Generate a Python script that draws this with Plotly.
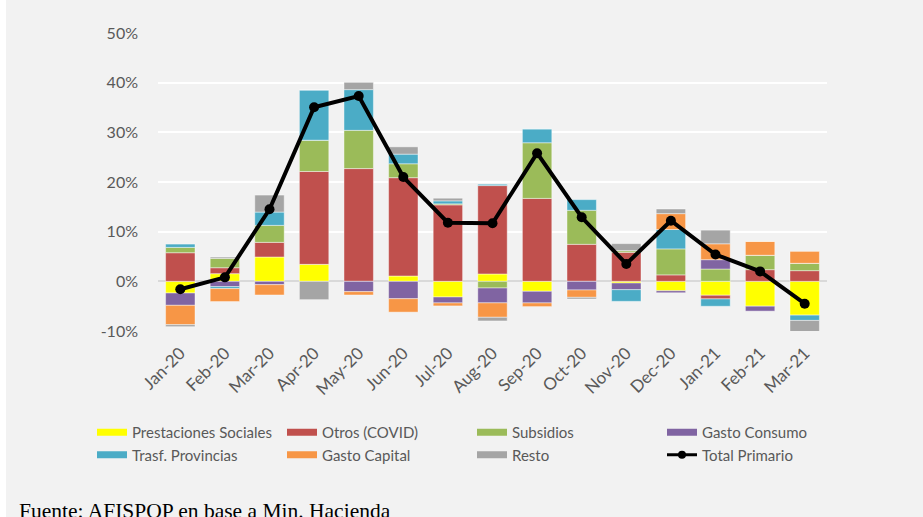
import plotly.graph_objects as go

months = ["Jan-20", "Feb-20", "Mar-20", "Apr-20", "May-20", "Jun-20", "Jul-20",
          "Aug-20", "Sep-20", "Oct-20", "Nov-20", "Dec-20", "Jan-21", "Feb-21", "Mar-21"]

prestaciones = [-2.35, 1.54, 4.90, 3.42, 0.00, 1.07, -3.15, 1.48, -2.00, 0.00, -0.34, -1.90, -2.80, -5.00, -6.80]
otros_covid  = [5.76, 1.20, 2.95, 18.70, 22.70, 19.80, 15.40, 17.80, 16.70, 7.45, 5.84, 1.30, -0.74, 2.35, 2.15]
subsidios    = [1.07, 1.88, 3.42, 6.30, 7.70, 2.80, 0.20, -1.34, 11.20, 6.85, 0.34, 5.23, 2.48, 2.90, 1.48]
gasto_consumo = [-2.48, -1.07, -0.67, 0.00, -2.08, -3.50, -1.20, -3.00, -2.35, -1.74, -1.34, -0.40, 1.88, -1.00, 0.00]
trasf_prov   = [0.67, -0.40, 2.68, 10.10, 8.20, 1.94, 0.60, 0.27, 2.80, 2.15, -2.35, 3.90, -1.48, 0.00, -1.07]
gasto_capital = [-3.90, -2.60, -2.08, 0.00, -0.67, -2.70, -0.60, -2.90, -0.74, -1.48, 0.00, 3.20, 3.20, 2.80, 2.40]
resto        = [-0.40, 0.27, 3.42, -3.69, 1.47, 1.47, 0.54, -0.74, 0.00, -0.34, 1.41, 0.94, 2.75, 0.00, -2.50]
total_primario = [-1.6, 0.8, 14.5, 35.05, 37.3, 21.0, 11.8, 11.7, 25.8, 12.9, 3.5, 12.2, 5.4, 2.0, -4.5]

y_tickvals = [-10, 0, 10, 20, 30, 40, 50]
y_ticktext = ["-10%", "0%", "10%", "20%", "30%", "40%", "50%"]

series = [
    ("Prestaciones Sociales", prestaciones, "#FFFF00"),
    ("Otros (COVID)", otros_covid, "#C0504D"),
    ("Subsidios", subsidios, "#9BBB59"),
    ("Gasto Consumo", gasto_consumo, "#8064A2"),
    ("Trasf. Provincias", trasf_prov, "#4BACC6"),
    ("Gasto Capital", gasto_capital, "#F79646"),
    ("Resto", resto, "#A5A5A5"),
]

FONT = "Lato"
GRAY = "#595959"

fig = go.Figure()
for name, vals, col in series:
    fig.add_trace(go.Bar(
        x=months, y=vals, name=name, showlegend=False,
        marker=dict(color=col, line=dict(color="rgba(255,255,255,0.55)", width=0.8)),
    ))

fig.add_trace(go.Scatter(
    x=months, y=total_primario, mode="lines+markers", showlegend=False,
    line=dict(color="black", width=4), marker=dict(color="black", size=10),
))

# legend entries (swatches as wide lines like the original)
for name, vals, col in series:
    fig.add_trace(go.Scatter(x=[None], y=[None], mode="lines", name=name,
                             line=dict(color=col, width=7)))
fig.add_trace(go.Scatter(x=[None], y=[None], mode="lines+markers", name="Total Primario",
                         line=dict(color="black", width=3), marker=dict(color="black", size=8)))

L, R, T, B = 158, 96, 33, 186
W, H = 923, 517
pw = W - L - R
ph = H - T - B

def px_x(px):
    return (px - L) / pw

def px_y(py):
    return (H - B - py) / ph

fig.update_layout(
    width=W, height=H,
    margin=dict(l=L, r=R, t=T, b=B, autoexpand=False),
    paper_bgcolor="#F2F2F2", plot_bgcolor="#F2F2F2",
    barmode="relative", bargap=0.34,
    font=dict(family=FONT, color=GRAY, size=16),
    xaxis=dict(tickangle=-45, showgrid=False, showline=False, ticks="",
               range=[-0.5, len(months) - 0.5], ticklabelstandoff=8,
               tickfont=dict(size=17, color=GRAY)),
    yaxis=dict(range=[-10, 50], tickvals=y_tickvals, ticktext=y_ticktext,
               showgrid=True, gridcolor="white", gridwidth=2,
               zeroline=True, zerolinecolor="#D9D9D9", zerolinewidth=1.5,
               ticklabelstandoff=19, tickfont=dict(size=16, color=GRAY)),
    legend=dict(orientation="h", xref="paper", yref="paper",
                x=px_x(92), y=px_y(416), xanchor="left", yanchor="top",
                entrywidthmode="pixels", entrywidth=145,
                font=dict(family=FONT, size=15, color=GRAY),
                bgcolor="rgba(0,0,0,0)", itemwidth=30, traceorder="normal"),
    shapes=[dict(type="rect", xref="paper", yref="paper",
                 x0=px_x(-5), x1=px_x(6), y0=px_y(H + 5), y1=px_y(-5),
                 fillcolor="white", line=dict(width=0), layer="above")],
    annotations=[dict(text="Fuente: AFISPOP en base a Min. Hacienda",
                      xref="paper", yref="paper", x=px_x(17), y=px_y(511),
                      xanchor="left", yanchor="middle", showarrow=False,
                      font=dict(family="Liberation Serif", size=21.5, color="black"))],
)

fig.write_html("out.html", config={"displayModeBar": False},
               post_script="document.body.style.margin='0';")
